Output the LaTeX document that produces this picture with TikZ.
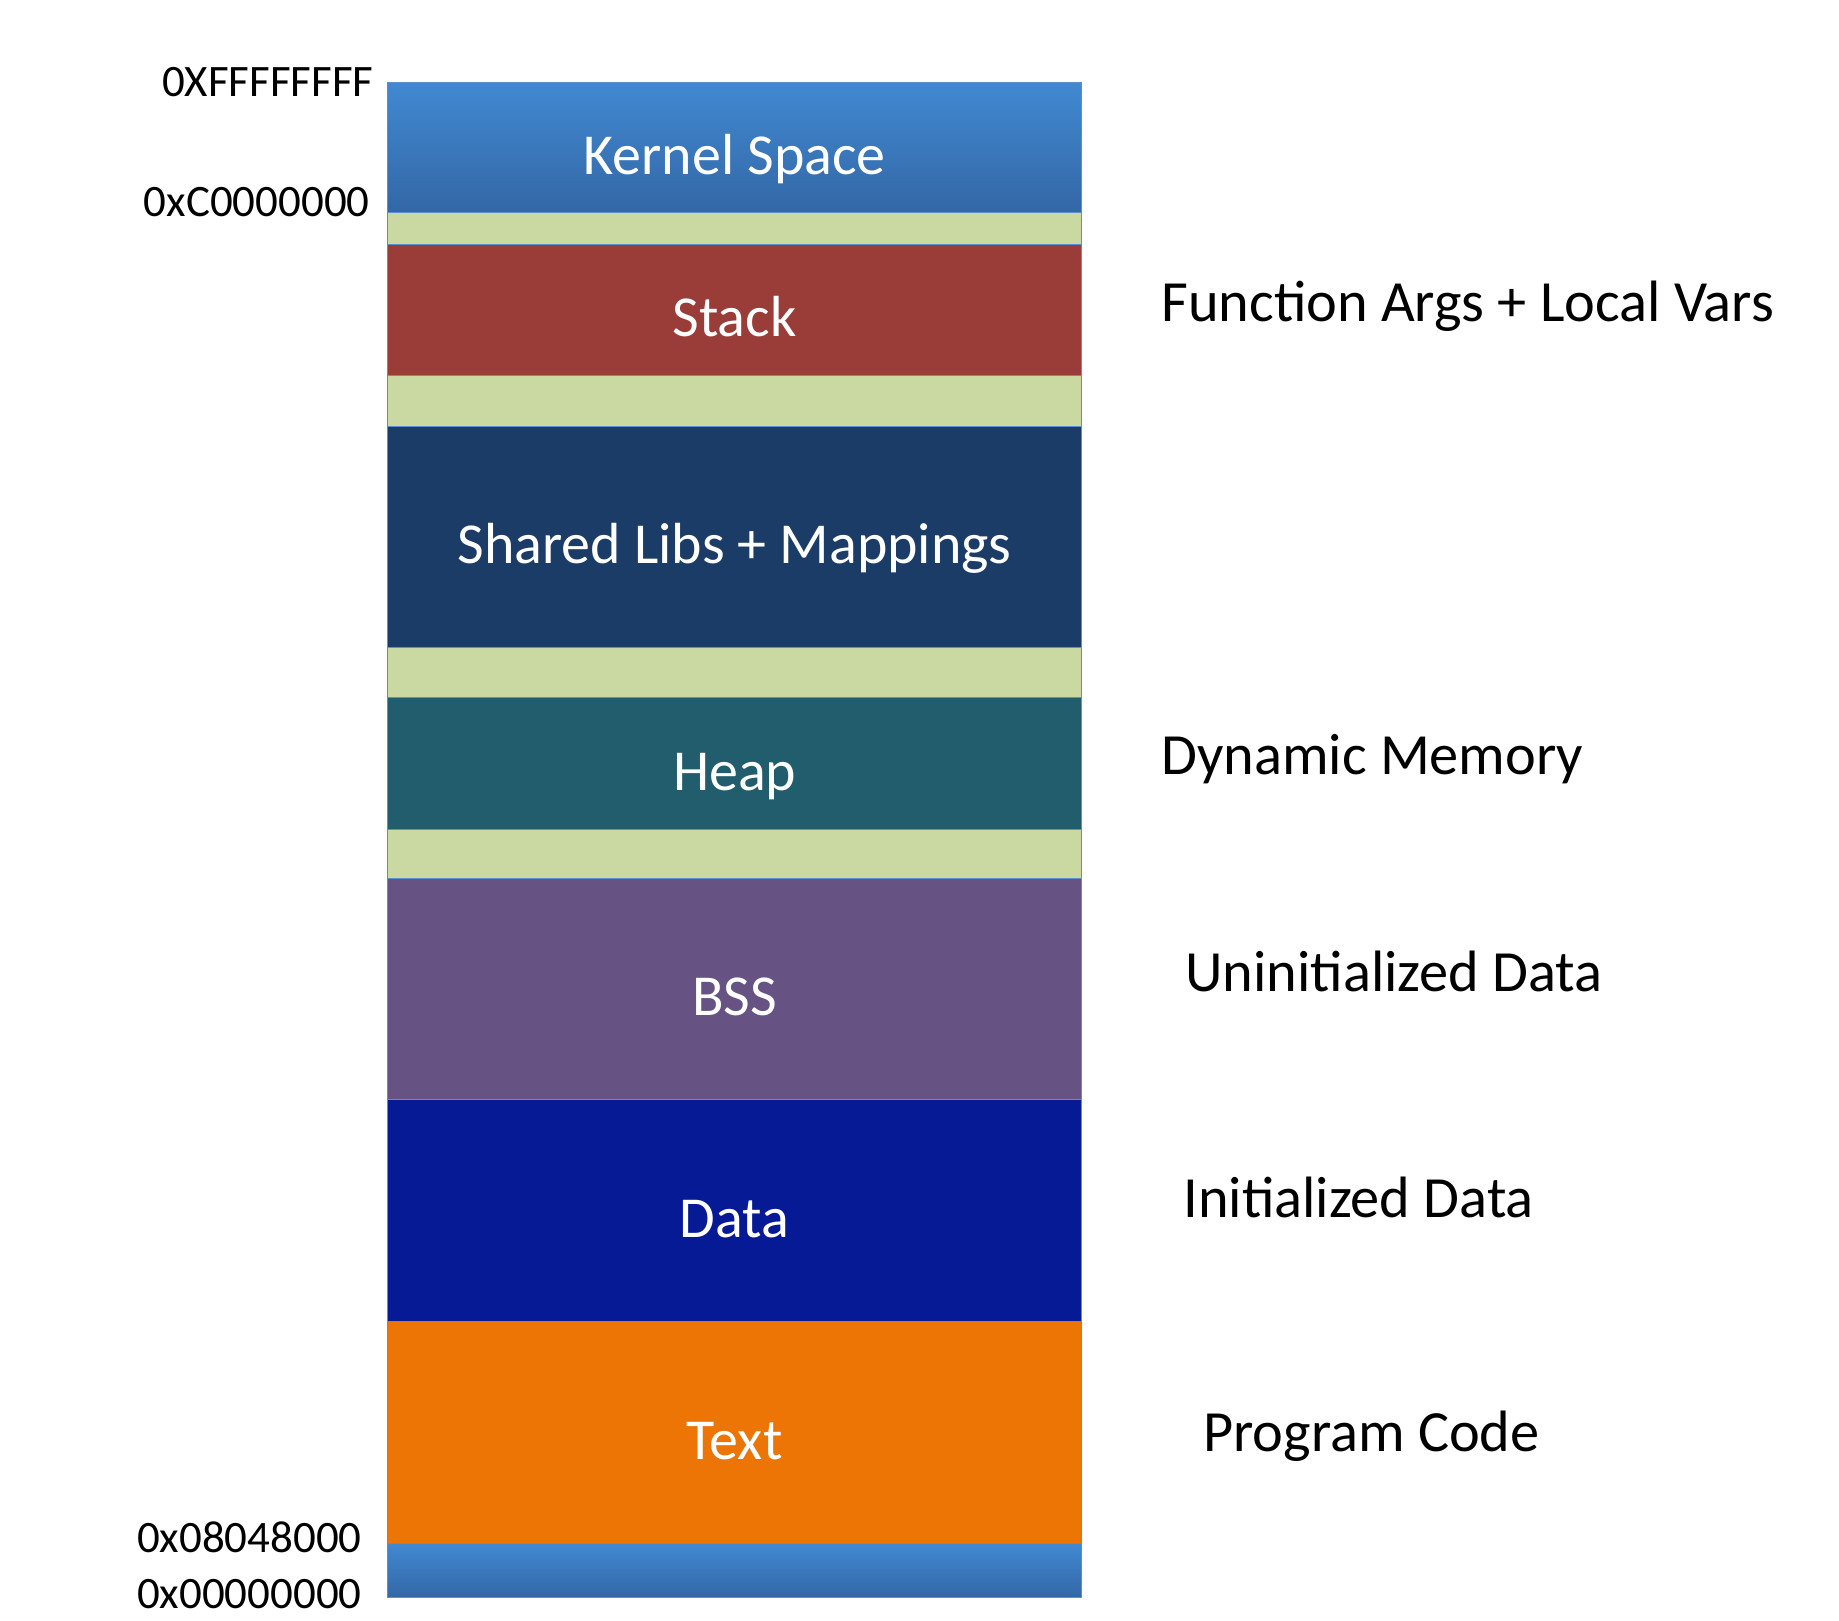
\documentclass[tikz,border=0pt]{standalone}
\usepackage{fontspec}
\setmainfont{Carlito}
\usetikzlibrary{calc}

\begin{document}
\begin{tikzpicture}[
    x=0.02cm, y=-0.02cm,
    seg/.style={draw=segline, line width=0.8pt, anchor=north west, inner sep=0pt,
        minimum width=13.88cm, minimum height=#1*0.02cm,
        text=white, font=\fontsize{33}{40}\selectfont, text height=30pt, text depth=0pt},
    gap/.style={seg=#1, fill=gapgreen},
    kern/.style={seg=#1, top color=kerntop, bottom color=kernbot},
    addr/.style={anchor=east, inner sep=0pt, font=\fontsize{25.6}{30}\selectfont,
        text height=16.5pt, text depth=0pt},
    note/.style={anchor=west, inner sep=0pt, font=\fontsize{33.2}{40}\selectfont,
        text height=21.4pt, text depth=0pt}
]

% Colours
\definecolor{segline}{HTML}{5C8FCB}
\definecolor{gapgreen}{HTML}{CAD8A2}
\definecolor{kerntop}{HTML}{4189D2}
\definecolor{kernbot}{HTML}{3367A6}
\definecolor{stackred}{HTML}{9A3D38}
\definecolor{libnavy}{HTML}{1B3C66}
\definecolor{heapteal}{HTML}{225D6E}
\definecolor{bsspurple}{HTML}{665283}
\definecolor{datablue}{HTML}{071A96}
\definecolor{textorange}{HTML}{EC7506}

\useasboundingbox (0,0) rectangle (1839,1621);

% ==================== MEMORY SEGMENTS ====================
\node[kern=130] (kernel) at (387, 82) {Kernel Space};
\node[gap=32] (gap1) at (387, 212) {};
\node[seg=131, fill=stackred] (stack) at (387, 244) {Stack};
\node[gap=51] (gap2) at (387, 375) {};
\node[seg=221, fill=libnavy] (shared) at (387, 426) {Shared Libs + Mappings};
\node[gap=50] (gap3) at (387, 647) {};
\node[seg=132, fill=heapteal] (heap) at (387, 697) {Heap};
\node[gap=49] (gap4) at (387, 829) {};
\node[seg=221, fill=bsspurple] (bss) at (387, 878) {BSS};
\node[seg=222, fill=datablue] (data) at (387, 1099) {Data};
\node[seg=222, fill=textorange] (text) at (387, 1321) {Text};
\node[kern=54] (low) at (387, 1543) {};

% ==================== ADDRESSES ====================
\node[addr] (atop) at (374, 82) {0XFFFFFFFF};
\node[addr] (akernel) at (370, 202) {0xC0000000};
\node[addr] (atext) at (362, 1538) {0x08048000};
\node[addr] (azero) at (362, 1594) {0x00000000};

% ==================== DESCRIPTIONS ====================
\node[note] (nstack) at (1161, 303) {Function Args + Local Vars};
\node[note] (nheap) at (1161, 756) {Dynamic Memory};
\node[note] (nbss) at (1185, 973) {Uninitialized Data};
\node[note] (ndata) at (1183, 1199) {Initialized Data};
\node[note] (ntext) at (1203, 1433) {Program Code};

\end{tikzpicture}
\end{document}
